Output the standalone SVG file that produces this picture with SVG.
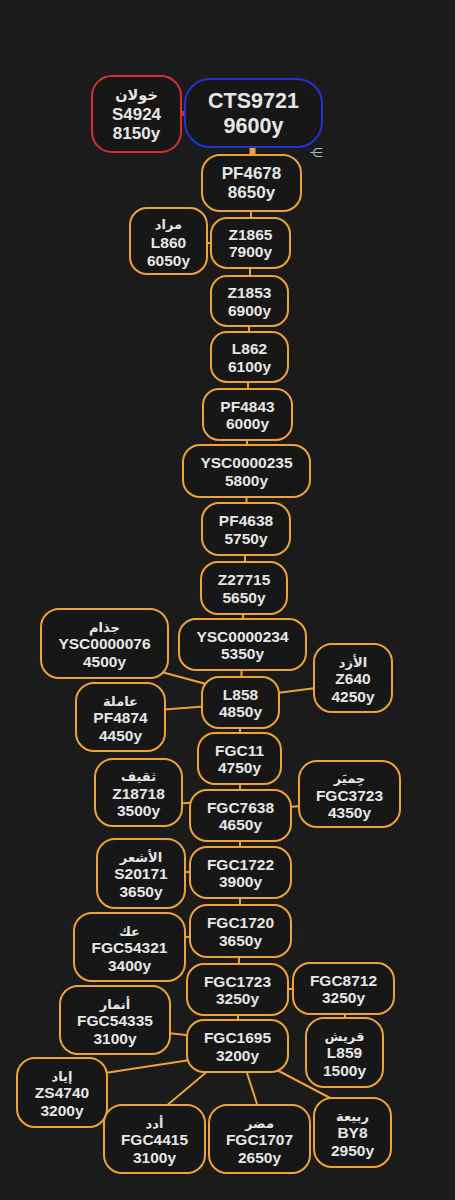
<svg xmlns="http://www.w3.org/2000/svg" width="455" height="1200" viewBox="0 0 455 1200">
<style>
.n rect{fill:#171717;stroke:#eea23a;stroke-width:2}
.n text{font-family:"Liberation Sans","DejaVu Sans",sans-serif;font-weight:bold;font-size:15.5px;fill:#e6e6e6;text-anchor:middle}
.n text.ar{font-family:"DejaVu Sans",sans-serif;font-weight:bold;font-size:13px}
#c line{stroke:#eea23a;stroke-width:2;stroke-linecap:butt}
</style>
<rect x="0" y="0" width="455" height="1200" fill="#1b1b1b"/>
<g id="c">
<line x1="180" y1="113.5" x2="186" y2="113.5" style="stroke:#d8302c;stroke-width:5"/>
<line x1="252.5" y1="146" x2="252.5" y2="156" style="stroke-width:6"/>
<line x1="251" y1="210" x2="251" y2="219"/>
<line x1="206" y1="243" x2="212" y2="243"/>
<line x1="250" y1="267" x2="250" y2="277"/>
<line x1="249" y1="325" x2="249" y2="333"/>
<line x1="248" y1="381" x2="248" y2="390"/>
<line x1="247" y1="439" x2="247" y2="446"/>
<line x1="246.5" y1="496" x2="246.5" y2="504"/>
<line x1="245" y1="554" x2="245" y2="563"/>
<line x1="243" y1="613" x2="243" y2="620"/>
<line x1="241.5" y1="669" x2="241.5" y2="678"/>
<line x1="158" y1="671" x2="206" y2="684"/>
<line x1="277" y1="693" x2="316" y2="688"/>
<line x1="164" y1="709.5" x2="204" y2="706.5"/>
<line x1="240" y1="727" x2="240" y2="734"/>
<line x1="240" y1="783" x2="240" y2="791"/>
<line x1="181" y1="803.5" x2="192" y2="802.5"/>
<line x1="290" y1="807" x2="300" y2="806"/>
<line x1="240" y1="840" x2="240" y2="848"/>
<line x1="184" y1="872" x2="191" y2="872"/>
<line x1="240" y1="897" x2="240" y2="906"/>
<line x1="184" y1="937" x2="191" y2="937"/>
<line x1="239" y1="956" x2="239" y2="965"/>
<line x1="287" y1="989" x2="294" y2="989"/>
<line x1="345" y1="1013" x2="345" y2="1019"/>
<line x1="238" y1="1014" x2="238" y2="1021"/>
<line x1="168" y1="1033" x2="190" y2="1035.5"/>
<line x1="190" y1="1060" x2="105" y2="1073"/>
<line x1="209" y1="1070" x2="165" y2="1107"/>
<line x1="246" y1="1070" x2="258" y2="1107"/>
<line x1="275" y1="1069" x2="334" y2="1100"/>
</g>
<text x="316" y="157" font-family="DejaVu Sans,sans-serif" font-size="13" fill="#b8b8b8" text-anchor="middle">⋲</text>
<g id="khawlan" class="n"><rect x="92" y="76" width="89" height="76" rx="20" style="stroke:#d8302c"/><text class="ar" x="136.5" y="100" style="font-size:14.5px">خولان</text><text x="136.5" y="120" style="font-size:17px">S4924</text><text x="136.5" y="139" style="font-size:17px">8150y</text></g>
<g id="cts9721" class="n"><rect x="185" y="79" width="137" height="68" rx="25" style="stroke:#2233d4"/><text x="253.5" y="108" style="font-size:21.5px">CTS9721</text><text x="253.5" y="133" style="font-size:21.5px">9600y</text></g>
<g id="pf4678" class="n"><rect x="202" y="155" width="99" height="56" rx="18"/><text x="251.5" y="179" style="font-size:17px">PF4678</text><text x="251.5" y="198" style="font-size:17px">8650y</text></g>
<g id="z1865" class="n"><rect x="211" y="218" width="79" height="50" rx="16"/><text x="250.5" y="240">Z1865</text><text x="250.5" y="257">7900y</text></g>
<g id="l860" class="n"><rect x="130" y="208" width="77" height="66" rx="17"/><text class="ar" x="168.5" y="229">مراد</text><text x="168.5" y="248">L860</text><text x="168.5" y="265.5">6050y</text></g>
<g id="z1853" class="n"><rect x="211" y="276" width="77" height="50" rx="16"/><text x="249.5" y="298">Z1853</text><text x="249.5" y="315.5">6900y</text></g>
<g id="l862" class="n"><rect x="211" y="332" width="77" height="50" rx="16"/><text x="249.5" y="354">L862</text><text x="249.5" y="371.5">6100y</text></g>
<g id="pf4843" class="n"><rect x="203" y="389" width="89" height="51" rx="16"/><text x="247.5" y="411.5">PF4843</text><text x="247.5" y="429">6000y</text></g>
<g id="ysc0000235" class="n"><rect x="183" y="445" width="127" height="52" rx="17"/><text x="246.5" y="468">YSC0000235</text><text x="246.5" y="485.5">5800y</text></g>
<g id="pf4638" class="n"><rect x="202" y="503" width="88" height="52" rx="17"/><text x="246" y="526">PF4638</text><text x="246" y="543.5">5750y</text></g>
<g id="z27715" class="n"><rect x="201" y="562" width="86" height="52" rx="17"/><text x="244" y="585">Z27715</text><text x="244" y="602.5">5650y</text></g>
<g id="ysc0000234" class="n"><rect x="179" y="619" width="127" height="51" rx="17"/><text x="242.5" y="641.5">YSC0000234</text><text x="242.5" y="659">5350y</text></g>
<g id="ysc0000076" class="n"><rect x="41" y="609" width="127" height="69" rx="18"/><text class="ar" x="104.5" y="631.5">جذام</text><text x="104.5" y="649">YSC0000076</text><text x="104.5" y="666.5">4500y</text></g>
<g id="l858" class="n"><rect x="202" y="677" width="77" height="51" rx="17"/><text x="240.5" y="699.5">L858</text><text x="240.5" y="717">4850y</text></g>
<g id="z640" class="n"><rect x="314" y="644" width="78" height="68" rx="18"/><text class="ar" x="353" y="666.5">الأزد</text><text x="353" y="684">Z640</text><text x="353" y="701.5">4250y</text></g>
<g id="pf4874" class="n"><rect x="76" y="683" width="89" height="68" rx="18"/><text class="ar" x="120.5" y="705.5">عاملة</text><text x="120.5" y="723">PF4874</text><text x="120.5" y="740.5">4450y</text></g>
<g id="fgc11" class="n"><rect x="198" y="733" width="83" height="51" rx="17"/><text x="239.5" y="755.5">FGC11</text><text x="239.5" y="773">4750y</text></g>
<g id="z18718" class="n"><rect x="95" y="759" width="87" height="67" rx="18"/><text class="ar" x="138.5" y="781">ثقيف</text><text x="138.5" y="798.5">Z18718</text><text x="138.5" y="816">3500y</text></g>
<g id="fgc7638" class="n"><rect x="190" y="790" width="101" height="51" rx="17"/><text x="240.5" y="812.5">FGC7638</text><text x="240.5" y="830">4650y</text></g>
<g id="fgc3723" class="n"><rect x="299" y="761" width="101" height="66" rx="18"/><text class="ar" x="349.5" y="783">حِميَر</text><text x="349.5" y="800.5">FGC3723</text><text x="349.5" y="818">4350y</text></g>
<g id="s20171" class="n"><rect x="97" y="839" width="88" height="69" rx="18"/><text class="ar" x="141" y="861.5">الأشعر</text><text x="141" y="879">S20171</text><text x="141" y="896.5">3650y</text></g>
<g id="fgc1722" class="n"><rect x="190" y="847" width="101" height="51" rx="17"/><text x="240.5" y="869.5">FGC1722</text><text x="240.5" y="887">3900y</text></g>
<g id="fgc1720" class="n"><rect x="190" y="905" width="101" height="52" rx="17"/><text x="240.5" y="928">FGC1720</text><text x="240.5" y="945.5">3650y</text></g>
<g id="fgc54321" class="n"><rect x="74" y="913" width="111" height="68" rx="18"/><text class="ar" x="129.5" y="935.5">عك</text><text x="129.5" y="953">FGC54321</text><text x="129.5" y="970.5">3400y</text></g>
<g id="fgc1723" class="n"><rect x="187" y="964" width="101" height="51" rx="17"/><text x="237.5" y="986.5">FGC1723</text><text x="237.5" y="1004">3250y</text></g>
<g id="fgc8712" class="n"><rect x="293" y="963" width="101" height="51" rx="17"/><text x="343.5" y="985.5">FGC8712</text><text x="343.5" y="1003">3250y</text></g>
<g id="fgc54335" class="n"><rect x="60" y="986" width="110" height="68" rx="18"/><text class="ar" x="115" y="1008.5">أنمار</text><text x="115" y="1026">FGC54335</text><text x="115" y="1043.5">3100y</text></g>
<g id="fgc1695" class="n"><rect x="187" y="1020" width="101" height="52" rx="17"/><text x="237.5" y="1043">FGC1695</text><text x="237.5" y="1060.5">3200y</text></g>
<g id="l859" class="n"><rect x="306" y="1018" width="77" height="69" rx="18"/><text class="ar" x="344.5" y="1040.5">قريش</text><text x="344.5" y="1058">L859</text><text x="344.5" y="1075.5">1500y</text></g>
<g id="zs4740" class="n"><rect x="17" y="1058" width="90" height="69" rx="18"/><text class="ar" x="62" y="1080.5">إياد</text><text x="62" y="1098">ZS4740</text><text x="62" y="1115.5">3200y</text></g>
<g id="fgc4415" class="n"><rect x="104" y="1105" width="101" height="68" rx="18"/><text class="ar" x="154.5" y="1127.5">أدد</text><text x="154.5" y="1145">FGC4415</text><text x="154.5" y="1162.5">3100y</text></g>
<g id="fgc1707" class="n"><rect x="209" y="1105" width="101" height="68" rx="18"/><text class="ar" x="259.5" y="1127.5">مضر</text><text x="259.5" y="1145">FGC1707</text><text x="259.5" y="1162.5">2650y</text></g>
<g id="by8" class="n"><rect x="314" y="1098" width="77" height="69" rx="18"/><text class="ar" x="352.5" y="1120.5">ربيعة</text><text x="352.5" y="1138">BY8</text><text x="352.5" y="1155.5">2950y</text></g>
</svg>
